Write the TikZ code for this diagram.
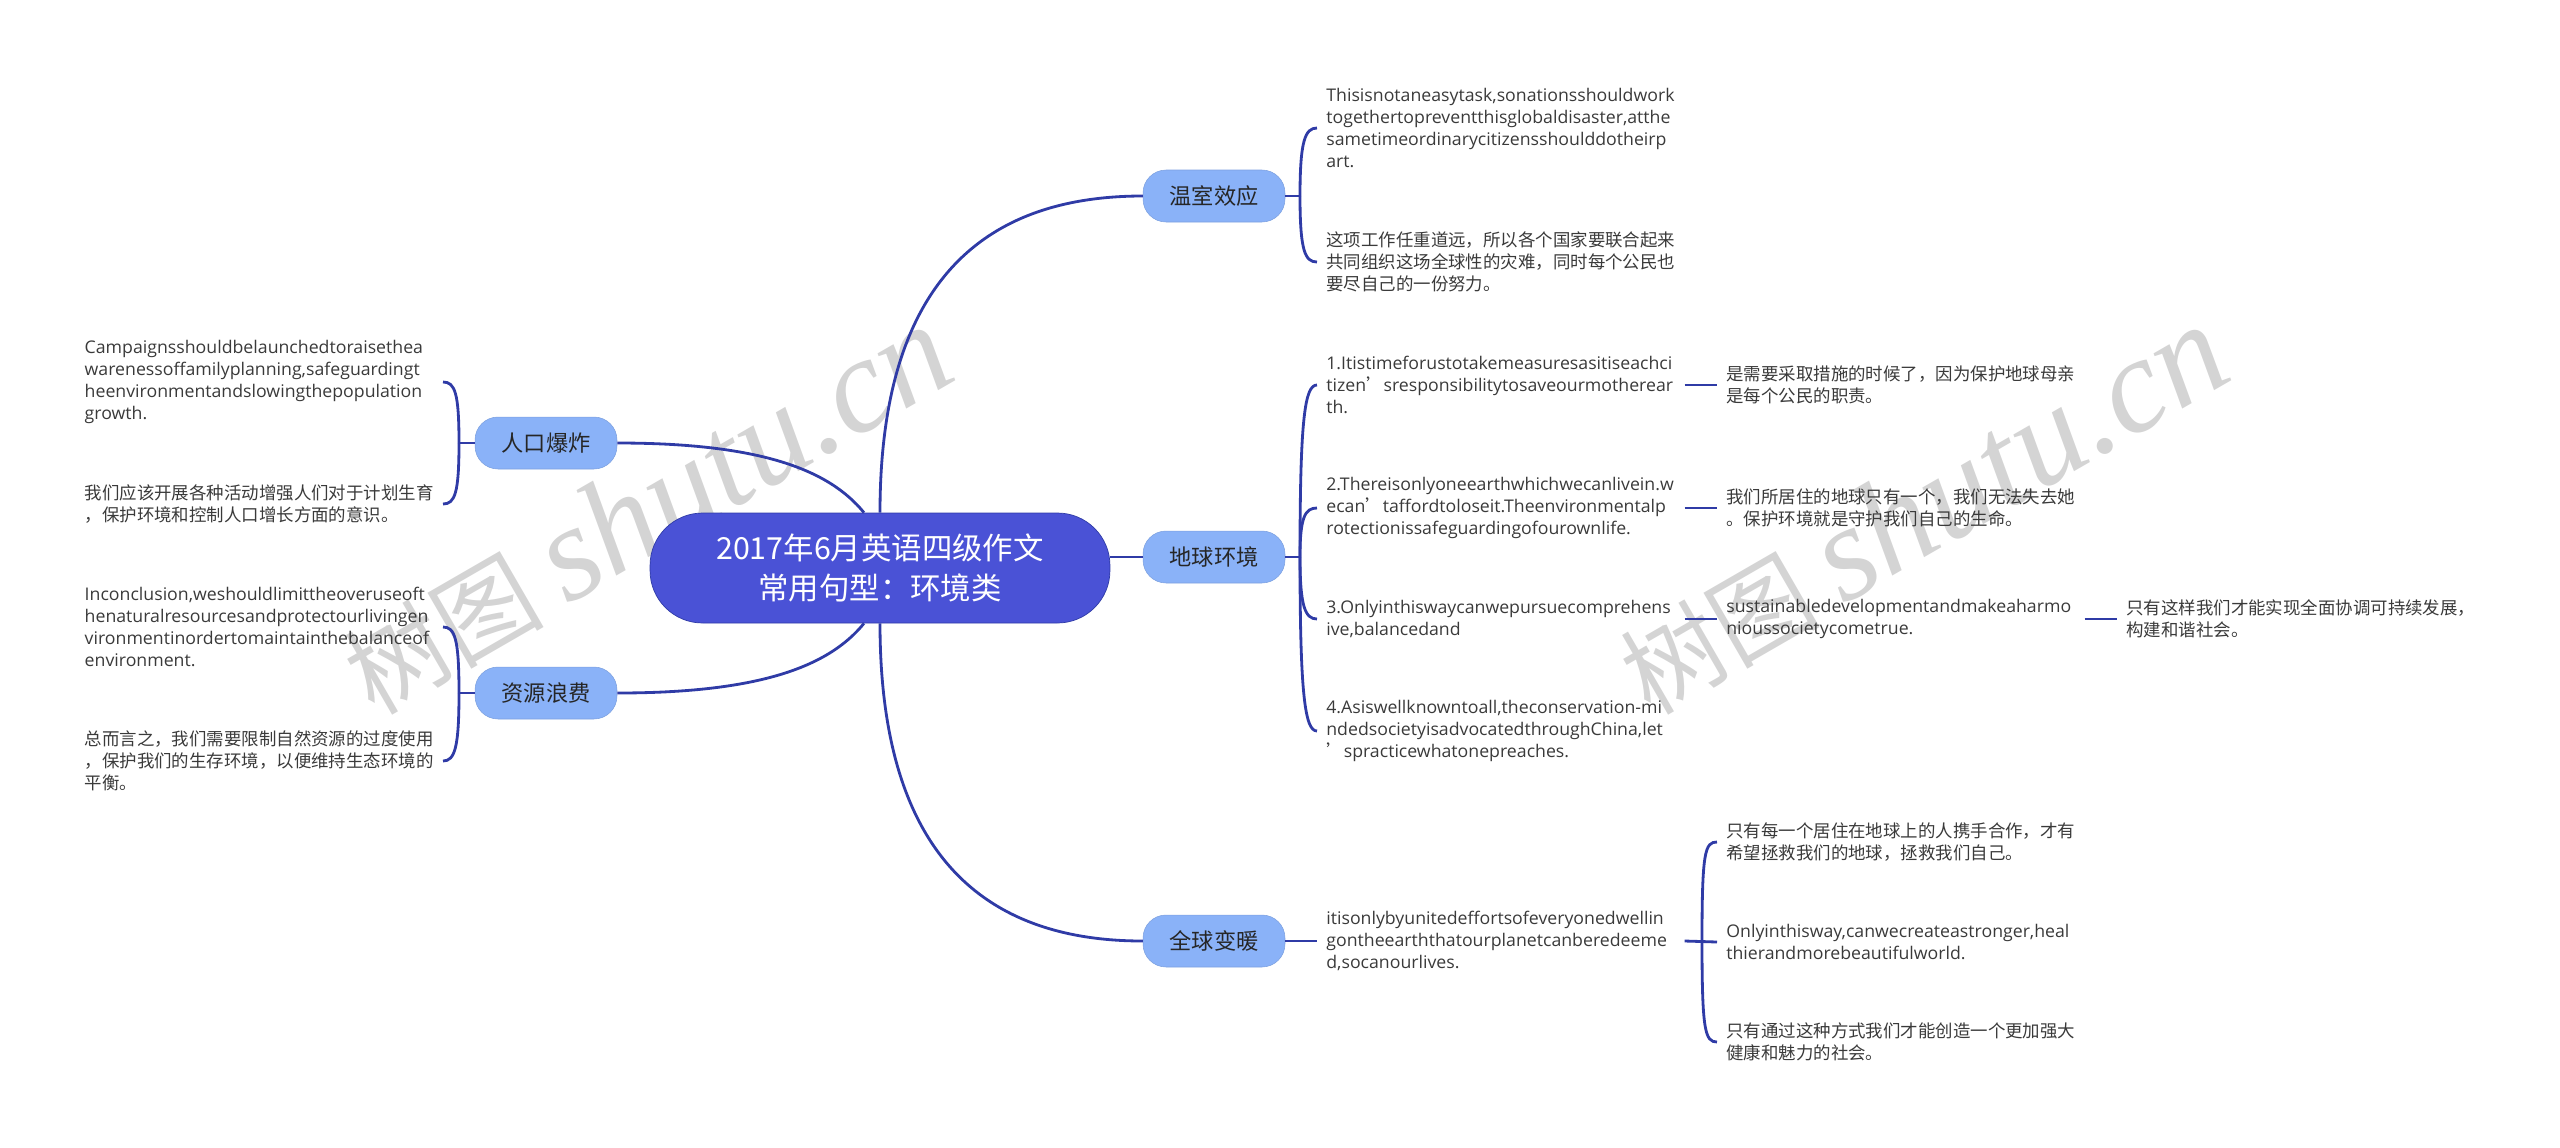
\documentclass[tikz,border=0pt]{standalone}
\usepackage{fontspec}
\setmainfont{Noto Sans CJK SC}
\newfontfamily\latinfont[FakeStretch=1.015]{Open Sans}
\newfontfamily\markfont{Liberation Serif}
\usetikzlibrary{calc}
\definecolor{linkblue}{HTML}{2F3BA6}
\definecolor{rootblue}{HTML}{4A52D6}
\definecolor{topicblue}{HTML}{8AB2F8}
\definecolor{leafgray}{HTML}{3A3A3A}
\newcommand{\qt}{{\normalfont ’}}
\newcommand{\nobreakword}{\hyphenpenalty=10000\relax}
\newcommand{\marktext}{树图 {\markfont\itshape\fontsize{77pt}{77pt}\selectfont shutu.cn}}
\tikzset{
    link/.style={draw=linkblue,line width=1.6pt},
    rootbox/.style={fill=rootblue,draw=linkblue,line width=0.4pt,rounded corners=1.05cm,minimum width=9.2cm,minimum height=2.2cm,align=center,text=white,font=\fontsize{17.3pt}{22.8pt}\selectfont},
    topicbox/.style={fill=topicblue,draw=topicblue!90!black,line width=0.3pt,rounded corners=0.46cm,minimum width=2.84cm,minimum height=1.04cm,text=black!85,font=\fontsize{12.65pt}{15pt}\selectfont},
    leaf/.style={text width=6.98cm,inner xsep=0.18cm,inner ysep=0pt,align=left,text=leafgray,font=\fontsize{9.93pt}{12.63pt}\selectfont},
    enleaf/.style={leaf,font=\fontsize{9.93pt}{12.63pt}\latinfont\selectfont\nobreakword},
    watermark/.style={text=black!17,rotate=30,font=\fontsize{57pt}{77pt}\selectfont}
}
\begin{document}
\begin{tikzpicture}[x=0.02cm,y=-0.02cm]
    \useasboundingbox(0,0)rectangle(2560,1147);
    \node[watermark](markleft)at(646,510){\marktext};
    \node[watermark](markright)at(1922,510){\marktext};

    \node[rootbox](root)at(880,568){2017年6月英语四级作文\\常用句型：环境类};
    \node[topicbox](wenshi)at(1214,196){温室效应};
    \node[topicbox](diqiu)at(1214,557){地球环境};
    \node[topicbox](quanqiu)at(1214,941){全球变暖};
    \node[topicbox](renkou)at(546,443){人口爆炸};
    \node[topicbox](ziyuan)at(546,693){资源浪费};

    \coordinate(rootup)at($(root.north)+(-16,0)$);
    \coordinate(rootdown)at($(root.south)+(-16,0)$);
    \coordinate(wenshihub)at(1300,196);
    \coordinate(diqiuhub)at(1300,557);
    \coordinate(quanqiuhub)at(1702,941);
    \coordinate(renkouhub)at(459,443);
    \coordinate(ziyuanhub)at(459,693);

    % right side
    \node[enleaf,anchor=west](ws1)at(1317,128){Thisisnotaneasytask,sonationsshouldwork\\togethertopreventthisglobaldisaster,atthe\\sametimeordinarycitizensshoulddotheirp\\art.};
    \node[leaf,anchor=west](ws2)at(1317,262){这项工作任重道远，所以各个国家要联合起来\\共同组织这场全球性的灾难，同时每个公民也\\要尽自己的一份努力。};

    \node[enleaf,anchor=west](dq1)at(1317,385){1.Itistimeforustotakemeasuresasitiseachci\\tizen\qt sresponsibilitytosaveourmotherear\\th.};
    \node[enleaf,anchor=west](dq2)at(1317,508){2.Thereisonlyoneearthwhichwecanlivein.w\\ecan\qt taffordtoloseit.Theenvironmentalp\\rotectionissafeguardingofourownlife.};
    \node[enleaf,anchor=west](dq3)at(1317,619){3.Onlyinthiswaycanwepursuecomprehens\\ive,balancedand};
    \node[enleaf,anchor=west](dq4)at(1317,731){4.Asiswellknowntoall,theconservation-mi\\ndedsocietyisadvocatedthroughChina,let\\\qt spracticewhatonepreaches.};

    \node[leaf,anchor=west](dqa)at(1717,385){是需要采取措施的时候了，因为保护地球母亲\\是每个公民的职责。};
    \node[leaf,anchor=west](dqb)at(1717,508){我们所居住的地球只有一个，我们无法失去她\\。保护环境就是守护我们自己的生命。};
    \node[enleaf,anchor=west](dqc)at(1717,619){sustainabledevelopmentandmakeaharmo\\nioussocietycometrue.};
    \node[leaf,anchor=west](dqd)at(2117,619){只有这样我们才能实现全面协调可持续发展，\\构建和谐社会。};

    \node[enleaf,anchor=west](qq1)at(1317,941){itisonlybyunitedeffortsofeveryonedwellin\\gontheearththatourplanetcanberedeeme\\d,socanourlives.};
    \node[leaf,anchor=west](qqa)at(1717,842){只有每一个居住在地球上的人携手合作，才有\\希望拯救我们的地球，拯救我们自己。};
    \node[enleaf,anchor=west](qqb)at(1717,942){Onlyinthisway,canwecreateastronger,heal\\thierandmorebeautifulworld.};
    \node[leaf,anchor=west](qqc)at(1717,1042){只有通过这种方式我们才能创造一个更加强大\\健康和魅力的社会。};

    % left side
    \node[enleaf,anchor=east](rk1)at(443,382){Campaignsshouldbelaunchedtoraisethea\\warenessoffamilyplanning,safeguardingt\\heenvironmentandslowingthepopulation\\growth.};
    \node[leaf,anchor=east](rk2)at(443,504){我们应该开展各种活动增强人们对于计划生育\\，保护环境和控制人口增长方面的意识。};
    \node[enleaf,anchor=east](zy1)at(443,627){Inconclusion,weshouldlimittheoveruseoft\\henaturalresourcesandprotectourlivingen\\vironmentinordertomaintainthebalanceof\\environment.};
    \node[leaf,anchor=east](zy2)at(443,761){总而言之，我们需要限制自然资源的过度使用\\，保护我们的生存环境，以便维持生态环境的\\平衡。};

    % links from the root
    \draw[link](root.north)..controls +(0,-230) and +(-160,0)..(wenshi.west);
    \draw[link](root.south)..controls +(0,230) and +(-160,0)..(quanqiu.west);
    \draw[link](diqiu.west-|root.east)--(diqiu.west);
    \draw[link](renkou.east)..controls +(143,0) and +(-35,-43)..(rootup);
    \draw[link](ziyuan.east)..controls +(143,0) and +(-35,43)..(rootdown);

    % brackets
    \draw[link](wenshi.east)--(wenshihub);
    \draw[link](diqiu.east)--(diqiuhub);
    \draw[link](renkou.west)--(renkouhub);
    \draw[link](ziyuan.west)--(ziyuanhub);
    \foreach \leafname/\bend in {ws1/-55,ws2/55}
        \draw[link](wenshihub)..controls +(0,\bend) and +(-12,0)..(\leafname.west);
    \foreach \leafname/\bend in {dq1/-140,dq2/-40,dq3/49,dq4/138}
        \draw[link](diqiuhub)..controls +(0,\bend) and +(-12,0)..(\leafname.west);
    \foreach \leafname/\bend in {qqa/-90,qqc/90}
        \draw[link](quanqiuhub)..controls +(0,\bend) and +(-12,0)..(\leafname.west);
    \foreach \leafname/\bend in {rk1/-50,rk2/50}
        \draw[link](renkouhub)..controls +(0,\bend) and +(12,0)..(\leafname.east);
    \foreach \leafname/\bend in {zy1/-54,zy2/54}
        \draw[link](ziyuanhub)..controls +(0,\bend) and +(12,0)..(\leafname.east);

    % straight links
    \draw[link](quanqiu.east)--(qq1.west);
    \draw[link](qq1.east)--(qqb.west);
    \draw[link](dq1.east)--(dqa.west);
    \draw[link](dq2.east)--(dqb.west);
    \draw[link](dq3.east)--(dqc.west);
    \draw[link](dqc.east)--(dqd.west);
\end{tikzpicture}
\end{document}
